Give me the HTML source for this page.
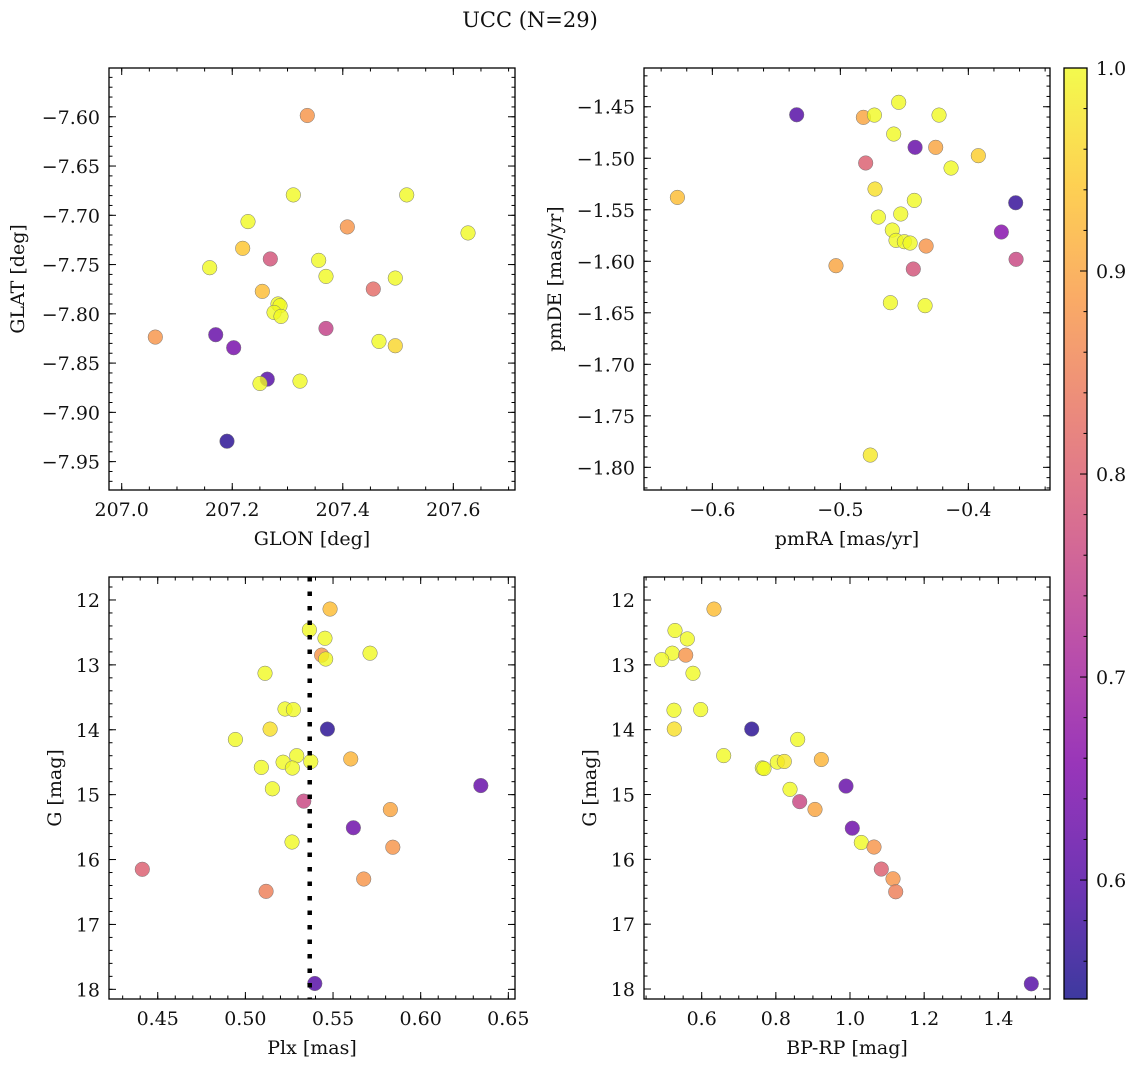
<!DOCTYPE html>
<html><head><meta charset="utf-8">
<style>
body{margin:0;background:#fff;}
svg text{font-family:"DejaVu Serif","Liberation Serif",serif;fill:#111;}
</style></head>
<body>
<svg id="fig" width="1136" height="1067" xmlns="http://www.w3.org/2000/svg">
<text x="530" y="27" font-size="21" text-anchor="middle">UCC (N=29)</text>
</svg>
<script>
// Panel 1: GLON vs GLAT
const glonX=[207.3358,207.3105,207.5157,207.2285,207.6266,207.4082,207.2189,207.1592,207.2689,207.3564,207.3696,207.4950,207.4552,207.2544,207.2828,207.2864,207.2756,207.2882,207.3696,207.1701,207.0608,207.4655,207.4950,207.2026,207.2634,207.2502,207.3226,207.1905];
const glatY=[-7.5987,-7.6793,-7.6793,-7.7064,-7.7179,-7.7118,-7.7335,-7.7532,-7.7443,-7.7457,-7.7620,-7.7637,-7.7748,-7.7772,-7.7900,-7.7918,-7.7986,-7.8026,-7.8148,-7.8212,-7.8236,-7.8280,-7.8324,-7.8344,-7.8663,-7.8707,-7.8683,-7.9293];
const glonC=[0.88,1,1,1,1,0.88,0.94,1,0.78,1,1,1,0.82,0.93,1,1,1,1,0.75,0.62,0.88,1,0.96,0.64,0.6,1,1,0.56];
// Panel 2: pmRA vs pmDE
const pmraX=[-0.5341,-0.4544,-0.4820,-0.4734,-0.4229,-0.4583,-0.4416,-0.4255,-0.3922,-0.4802,-0.4135,-0.4729,-0.6273,-0.4422,-0.3630,-0.4528,-0.4703,-0.4594,-0.3742,-0.4565,-0.4500,-0.4455,-0.4330,-0.3627,-0.5034,-0.4430,-0.4609,-0.4338,-0.4766];
const pmdeY=[-1.4578,-1.4457,-1.4603,-1.4581,-1.4581,-1.4765,-1.4894,-1.4894,-1.4975,-1.5046,-1.5095,-1.5299,-1.5380,-1.5409,-1.5432,-1.5541,-1.5571,-1.5697,-1.5716,-1.5797,-1.5810,-1.5823,-1.5852,-1.5981,-1.6043,-1.6075,-1.6402,-1.6431,-1.7881];
const pmC=[0.6,1,0.9,1,1,1,0.62,0.9,0.95,0.8,1,0.97,0.93,1,0.57,1,1,1,0.66,1,1,1,0.88,0.76,0.9,0.78,1,1,0.98];
// Panel 3: Plx vs G
const plxX=[0.5483,0.5365,0.5454,0.5435,0.5711,0.5458,0.5112,0.5226,0.5274,0.5141,0.5468,0.4943,0.5293,0.5215,0.5373,0.5601,0.5091,0.5268,0.5154,0.6343,0.5333,0.5827,0.5616,0.5266,0.5841,0.4412,0.5675,0.5118,0.5396];
const plxG=[12.14,12.46,12.59,12.85,12.82,12.91,13.13,13.68,13.69,13.99,13.99,14.15,14.40,14.50,14.49,14.45,14.58,14.59,14.91,14.86,15.10,15.23,15.51,15.73,15.81,16.15,16.30,16.49,17.91];
const plxC=[0.93,1,1,0.88,1,1,1,1,1,0.97,0.56,1,1,1,1,0.92,1,1,1,0.62,0.76,0.9,0.63,1,0.88,0.8,0.88,0.85,0.6];
const plxLine=[0.5367];
// Panel 4: BP-RP vs G
const bprpX=[0.6332,0.5280,0.5612,0.5207,0.5569,0.4921,0.5765,0.5253,0.5973,0.5261,0.7349,0.8589,0.6593,0.9226,0.8039,0.8228,0.7635,0.7680,0.9892,0.8382,0.8643,0.9056,1.0062,1.0305,1.0647,1.0844,1.1160,1.1233,1.4890];
const bprpG=[12.14,12.47,12.60,12.82,12.85,12.92,13.13,13.70,13.69,13.99,13.99,14.15,14.40,14.46,14.50,14.49,14.59,14.60,14.87,14.92,15.11,15.23,15.52,15.74,15.81,16.15,16.30,16.50,17.92];
const bprpC=[0.93,1,1,1,0.88,1,1,1,1,0.97,0.56,1,1,0.92,1,0.98,1,1,0.62,1,0.76,0.9,0.63,1,0.88,0.8,0.88,0.85,0.6];
const cbTicks=[0.6,0.7,0.8,0.9,1.0];

const NS="http://www.w3.org/2000/svg";
const svg=document.getElementById('fig');
const VMIN=0.5414,VMAX=1.0;
const FS=19;
const stops=[[13,8,135],[76,2,161],[126,3,168],[169,35,149],[204,71,120],[229,107,93],[248,149,64],[253,197,39],[240,249,33]];
function plasma(t){t=Math.max(0,Math.min(1,t));const p=t*8,i=Math.min(7,Math.floor(p)),f=p-i;const a=stops[i],b=stops[i+1];
 return `rgb(${Math.round(a[0]+(b[0]-a[0])*f)},${Math.round(a[1]+(b[1]-a[1])*f)},${Math.round(a[2]+(b[2]-a[2])*f)})`;}
function mk(tag,attrs,parent){const e=document.createElementNS(NS,tag);for(const k in attrs)e.setAttribute(k,attrs[k]);(parent||svg).appendChild(e);return e;}
function fmt(v,d){let s=v.toFixed(d);if(Math.abs(v)<1e-9)s=(0).toFixed(d);return s.replace('-','\u2212');}
function ticksIn(a,b,step){const lo=Math.min(a,b),hi=Math.max(a,b),out=[];
 let n=Math.ceil(lo/step-1e-6);for(;n*step<=hi+1e-9;n++)out.push(n*step);return out;}

function panel(o){
 const g=mk('g',{});
 
 
 const sx=v=>o.L+(v-o.x0)/(o.x1-o.x0)*(o.R-o.L);
 const sy=v=>o.B-(v-o.y0)/(o.y1-o.y0)*(o.B-o.T);
 for(let i=0;i<o.xs.length;i++){
  const c=mk('circle',{cx:sx(o.xs[i]),cy:sy(o.ys[i]),r:7.3,fill:plasma((o.cs[i]-VMIN)/(VMAX-VMIN)),'fill-opacity':0.8,stroke:'#777','stroke-width':0.5},g);
  
  
 }
 if(o.vline){for(const v of o.vline){const l=mk('line',{x1:sx(v),x2:sx(v),y1:o.T,y2:o.B,stroke:'#000','stroke-width':4.5,'stroke-dasharray':'4.5 10'},g);
  
  }}
 const fr=mk('rect',{x:o.L,y:o.T,width:o.R-o.L,height:o.B-o.T,fill:'none',stroke:'#000','stroke-width':1.3},g);
 
 
 const tk=(x1,y1,x2,y2)=>mk('line',{x1,y1,x2,y2,stroke:'#000','stroke-width':1},g);
 for(const v of ticksIn(o.x0,o.x1,o.xmin)){const x=sx(v);tk(x,o.B,x,o.B-3.5);tk(x,o.T,x,o.T+3.5);}
 for(const v of ticksIn(o.x0,o.x1,o.xmaj)){const x=sx(v);tk(x,o.B,x,o.B-7);tk(x,o.T,x,o.T+7);
  const t=mk('text',{x:x,y:o.B+26,'font-size':FS,'text-anchor':'middle'},g);t.textContent=fmt(v,o.xd);
  
  }
 for(const v of ticksIn(o.y0,o.y1,o.ymin)){const y=sy(v);tk(o.L,y,o.L+3.5,y);tk(o.R,y,o.R-3.5,y);}
 for(const v of ticksIn(o.y0,o.y1,o.ymaj)){const y=sy(v);tk(o.L,y,o.L+7,y);tk(o.R,y,o.R-7,y);
  const t=mk('text',{x:o.L-9,y:y+7,'font-size':FS,'text-anchor':'end'},g);t.textContent=fmt(v,o.yd);
  
  }
 const xl=mk('text',{x:(o.L+o.R)/2,y:o.B+55,'font-size':FS,'text-anchor':'middle'},g);xl.textContent=o.xlabel;
 
 
 const yx=o.L-o.ylabOff,yy=(o.T+o.B)/2;
 const yl=mk('text',{x:yx,y:yy,'font-size':FS,'text-anchor':'middle',transform:`rotate(-90 ${yx} ${yy})`},g);yl.textContent=o.ylabel;
 
 
}
panel({name:'glon-glat-panel',L:109,R:515,T:68,B:490,x0:206.977,x1:207.7116,y0:-7.9788,y1:-7.5505,xmaj:0.2,xmin:0.05,ymaj:0.05,ymin:0.01,xd:1,yd:2,xs:glonX,ys:glatY,cs:glonC,xlabel:'GLON [deg]',ylabel:'GLAT [deg]',ylabOff:85});
panel({name:'pm-panel',L:644,R:1050,T:68,B:490,x0:-0.6534,x1:-0.3362,y0:-1.8220,y1:-1.4124,xmaj:0.1,xmin:0.02,ymaj:0.05,ymin:0.01,xd:1,yd:2,xs:pmraX,ys:pmdeY,cs:pmC,xlabel:'pmRA [mas/yr]',ylabel:'pmDE [mas/yr]',ylabOff:83});
panel({name:'plx-g-panel',L:109,R:515,T:577,B:999,x0:0.4222,x1:0.6538,y0:18.149,y1:11.646,xmaj:0.05,xmin:0.01,ymaj:1,ymin:0.2,xd:2,yd:0,xs:plxX,ys:plxG,cs:plxC,vline:plxLine,xlabel:'Plx [mas]',ylabel:'G [mag]',ylabOff:48});
panel({name:'cmd-panel',L:644,R:1050,T:577,B:999,x0:0.4444,x1:1.5394,y0:18.154,y1:11.645,xmaj:0.2,xmin:0.05,ymaj:1,ymin:0.2,xd:1,yd:0,xs:bprpX,ys:bprpG,cs:bprpC,xlabel:'BP-RP [mag]',ylabel:'G [mag]',ylabOff:48});

const cg=mk('g',{});


const CL=1064,CR=1087,CT=68,CB=999;
const defs=mk('defs',{},cg);
const lg=mk('linearGradient',{id:'cbg',x1:0,y1:1,x2:0,y2:0},defs);
for(let k=0;k<=16;k++){mk('stop',{offset:k/16,'stop-color':plasma(k/16),'stop-opacity':0.8},lg);}
mk('rect',{x:CL,y:CT,width:CR-CL,height:CB-CT,fill:'url(#cbg)',stroke:'#000','stroke-width':1.3},cg);
const cy=v=>CB-(v-VMIN)/(VMAX-VMIN)*(CB-CT);
for(const v of ticksIn(VMIN,VMAX,0.02)){mk('line',{x1:CR,x2:CR-3.5,y1:cy(v),y2:cy(v),stroke:'#000','stroke-width':1},cg);}
for(const v of cbTicks){const y=cy(v);mk('line',{x1:CR,x2:CR-7,y1:y,y2:y,stroke:'#000','stroke-width':1},cg);
 const t=mk('text',{x:CR+9,y:y+7,'font-size':FS},cg);t.textContent=v.toFixed(1);
 
 }
</script>
</body></html>
